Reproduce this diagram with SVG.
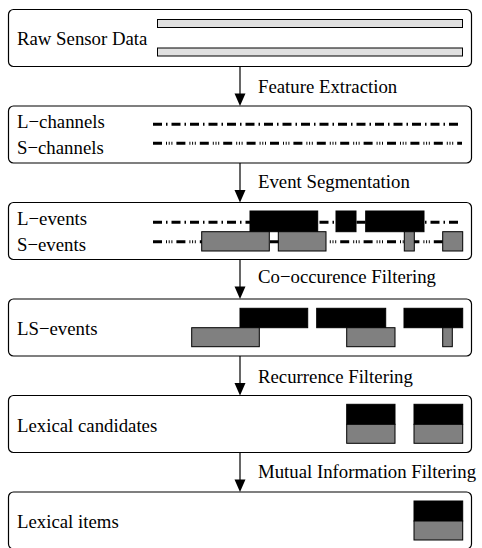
<svg xmlns="http://www.w3.org/2000/svg" width="482" height="548" viewBox="0 0 482 548">
<style>
.box{fill:#fff;stroke:#000;stroke-width:1.2}
text{font-family:"Liberation Serif","Times New Roman",serif;font-size:18.8px;fill:#000}
.raw{fill:#e0e0e0;stroke:#000;stroke-width:1}
.blk{fill:#000;stroke:#000;stroke-width:1}
.gry{fill:#808080;stroke:#000;stroke-width:1}
.lch{stroke:#000;stroke-width:3;fill:none;stroke-dasharray:9 4 1.5 4}
.sch{stroke:#000;stroke-width:3;fill:none;stroke-dasharray:9 4 1 1.7 1 1.7 1 4}
.conn line{stroke:#000;stroke-width:1.2}
.conn polygon{fill:#000}
</style>
<rect x="0" y="0" width="482" height="548" fill="#fff"/>
<g id="raw-sensor-data">
<rect class="box" x="8.5" y="9.5" width="463" height="57" rx="5"/>
<text x="17" y="44.5">Raw Sensor Data</text>
<rect class="raw" x="157.5" y="19.5" width="305" height="8"/>
<rect class="raw" x="157.5" y="48" width="305" height="8"/>
</g>
<g id="channels">
<rect class="box" x="8.5" y="106" width="463" height="57" rx="5"/>
<text x="17" y="128">L−channels</text>
<text x="17" y="153.5">S−channels</text>
<line class="lch" x1="153" y1="124.3" x2="462" y2="124.3"/>
<line class="sch" x1="153" y1="143.3" x2="462" y2="143.3"/>
</g>
<g id="events">
<rect class="box" x="8.5" y="202.5" width="463" height="57" rx="5"/>
<text x="17" y="225">L−events</text>
<text x="17" y="251">S−events</text>
<line class="lch" x1="153" y1="222.3" x2="462" y2="222.3"/>
<line class="sch" x1="153" y1="241.7" x2="462" y2="241.7"/>
<rect class="blk" x="250" y="211" width="67.7" height="20.7"/>
<rect class="blk" x="336" y="211" width="20" height="20.7"/>
<rect class="blk" x="365.7" y="211" width="58.3" height="20.7"/>
<rect class="gry" x="201.7" y="231.7" width="67.6" height="19.3"/>
<rect class="gry" x="278.3" y="231.7" width="47.7" height="19.3"/>
<rect class="gry" x="404.3" y="231.7" width="10" height="19.3"/>
<rect class="gry" x="442.7" y="231.7" width="20" height="19.3"/>
</g>
<g id="ls-events">
<rect class="box" x="8.5" y="299" width="463" height="57" rx="5"/>
<text x="17" y="335">LS−events</text>
<rect class="blk" x="240" y="308.3" width="67.7" height="19.4"/>
<rect class="blk" x="316.7" y="308.3" width="69" height="19.4"/>
<rect class="blk" x="404" y="308.3" width="58.7" height="19.4"/>
<rect class="gry" x="191.7" y="327.7" width="67.6" height="19"/>
<rect class="gry" x="346.7" y="327.7" width="48.3" height="19"/>
<rect class="gry" x="442.7" y="327.7" width="9.6" height="19"/>
</g>
<g id="lexical-candidates">
<rect class="box" x="8.5" y="395.5" width="463" height="57" rx="5"/>
<text x="17" y="431.7">Lexical candidates</text>
<rect class="blk" x="346.7" y="404.3" width="48.3" height="20"/>
<rect class="gry" x="346.7" y="424.3" width="48.3" height="19"/>
<rect class="blk" x="414" y="404.3" width="48.7" height="20"/>
<rect class="gry" x="414" y="424.3" width="48.7" height="19"/>
</g>
<g id="lexical-items">
<rect class="box" x="8.5" y="492" width="463" height="57" rx="5"/>
<text x="17" y="528.3">Lexical items</text>
<rect class="blk" x="414" y="501" width="48.7" height="20"/>
<rect class="gry" x="414" y="521" width="48.7" height="19"/>
</g>
<g id="connectors" class="conn">
<line x1="240" y1="66.5" x2="240" y2="94"/>
<polygon points="240,106 234.5,93.5 245.5,93.5"/>
<text x="258" y="93">Feature Extraction</text>
<line x1="240" y1="163" x2="240" y2="190.5"/>
<polygon points="240,202.5 234.5,190 245.5,190"/>
<text x="258" y="188.3">Event Segmentation</text>
<line x1="240" y1="259.5" x2="240" y2="287"/>
<polygon points="240,299 234.5,286.5 245.5,286.5"/>
<text x="258" y="283.3">Co−occurence Filtering</text>
<line x1="240" y1="356" x2="240" y2="383.5"/>
<polygon points="240,395.5 234.5,383 245.5,383"/>
<text x="258" y="383.3">Recurrence Filtering</text>
<line x1="240" y1="452.5" x2="240" y2="480"/>
<polygon points="240,492 234.5,479.5 245.5,479.5"/>
<text x="258" y="478.3">Mutual Information Filtering</text>
</g>
</svg>
